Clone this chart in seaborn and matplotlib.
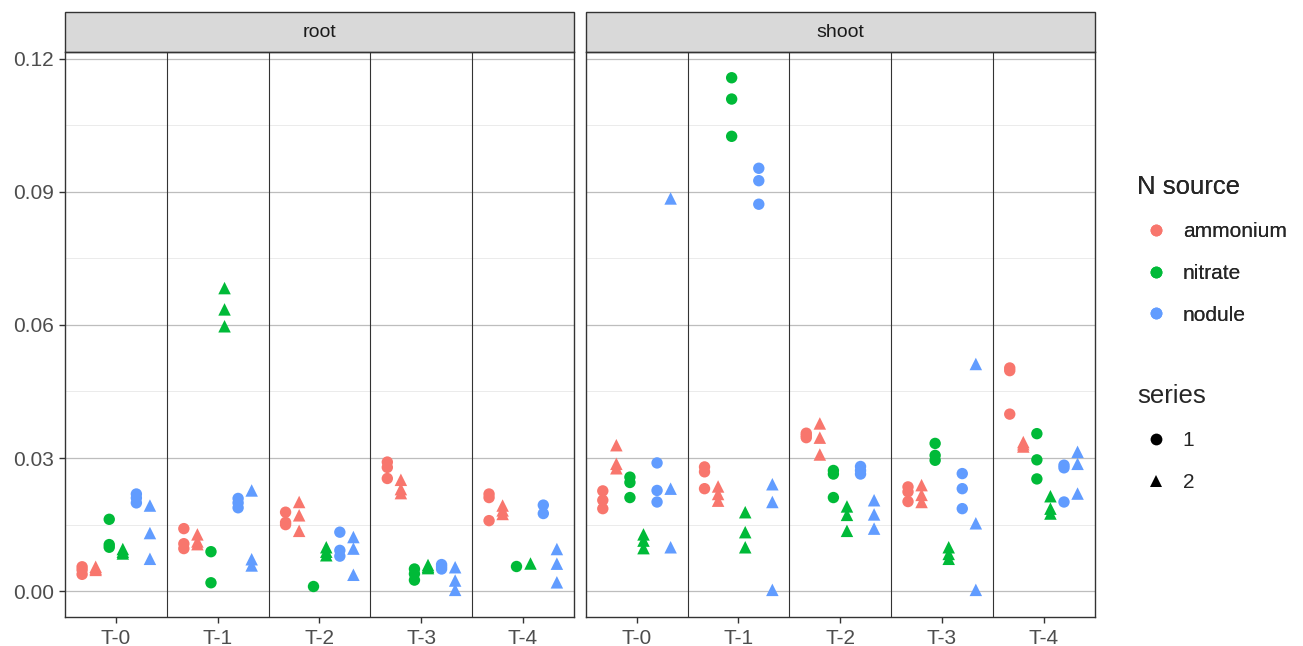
import pandas as pd
import matplotlib
matplotlib.use("Agg")
import matplotlib.pyplot as plt
import seaborn as sns
from matplotlib.lines import Line2D
from matplotlib.patches import Rectangle
from matplotlib.ticker import MultipleLocator

# ==========================================
# data
# ==========================================
times = ["T-0", "T-1", "T-2", "T-3", "T-4"]
tissues = ["root", "shoot"]
sources = ["ammonium", "nitrate", "nodule"]
series_levels = [1, 2]

# one list per tissue / source / series, one sub-list per time point
root_ammonium_1 = [[0.0055, 0.0048, 0.0038], [0.0141, 0.0107, 0.0096], [0.0178, 0.0155, 0.0150],
                   [0.0291, 0.0279, 0.0254], [0.0219, 0.0211, 0.0159]]
root_ammonium_2 = [[0.0055, 0.0051, 0.0048], [0.0128, 0.0112, 0.0106], [0.0201, 0.0171, 0.0136],
                   [0.0251, 0.0230, 0.0221], [0.0193, 0.0182, 0.0174]]
root_nitrate_1 = [[0.0162, 0.0105, 0.0099], [0.0089, 0.0019], [0.0011],
                  [0.0050, 0.0039, 0.0025], [0.0056]]
root_nitrate_2 = [[0.0095, 0.0089, 0.0085], [0.0683, 0.0635, 0.0597], [0.0099, 0.0089, 0.0081],
                  [0.0059, 0.0055, 0.0052], [0.0064]]
root_nodule_1 = [[0.0219, 0.0210, 0.0199], [0.0209, 0.0199, 0.0188], [0.0133, 0.0092, 0.0079],
                 [0.0060, 0.0055, 0.0050], [0.0194, 0.0175]]
root_nodule_2 = [[0.0193, 0.0131, 0.0073], [0.0227, 0.0072, 0.0058], [0.0122, 0.0096, 0.0037],
                 [0.0054, 0.0024, 0.0003], [0.0095, 0.0062, 0.0020]]

shoot_ammonium_1 = [[0.0226, 0.0205, 0.0186], [0.0280, 0.0269, 0.0231], [0.0356, 0.0351, 0.0346],
                    [0.0235, 0.0224, 0.0202], [0.0503, 0.0497, 0.0399]]
shoot_ammonium_2 = [[0.0329, 0.0287, 0.0277], [0.0236, 0.0219, 0.0204], [0.0378, 0.0346, 0.0308],
                    [0.0239, 0.0217, 0.0201], [0.0336, 0.0331, 0.0326]]
shoot_nitrate_1 = [[0.0257, 0.0245, 0.0211], [0.1157, 0.1109, 0.1025], [0.0272, 0.0264, 0.0211],
                   [0.0333, 0.0306, 0.0295], [0.0355, 0.0296, 0.0253]]
shoot_nitrate_2 = [[0.0128, 0.0114, 0.0097], [0.0178, 0.0133, 0.0099], [0.0191, 0.0172, 0.0136],
                   [0.0099, 0.0084, 0.0073], [0.0214, 0.0186, 0.0175]]
shoot_nodule_1 = [[0.0289, 0.0227, 0.0201], [0.0953, 0.0925, 0.0872], [0.0281, 0.0272, 0.0264],
                  [0.0265, 0.0231, 0.0186], [0.0284, 0.0278, 0.0201]]
shoot_nodule_2 = [[0.0885, 0.0231, 0.0099], [0.0241, 0.0201, 0.0003], [0.0205, 0.0173, 0.0141],
                  [0.0512, 0.0153, 0.0003], [0.0314, 0.0287, 0.0220]]

source_colors = {"ammonium": "#F8766D", "nitrate": "#00BA38", "nodule": "#619CFF"}
series_markers = {1: "o", 2: "^"}

# ==========================================
# long table
# ==========================================
blocks = {
    ("root", "ammonium", 1): root_ammonium_1, ("root", "ammonium", 2): root_ammonium_2,
    ("root", "nitrate", 1): root_nitrate_1, ("root", "nitrate", 2): root_nitrate_2,
    ("root", "nodule", 1): root_nodule_1, ("root", "nodule", 2): root_nodule_2,
    ("shoot", "ammonium", 1): shoot_ammonium_1, ("shoot", "ammonium", 2): shoot_ammonium_2,
    ("shoot", "nitrate", 1): shoot_nitrate_1, ("shoot", "nitrate", 2): shoot_nitrate_2,
    ("shoot", "nodule", 1): shoot_nodule_1, ("shoot", "nodule", 2): shoot_nodule_2,
}
rows = []
for (tissue, source, ser), per_time in blocks.items():
    for t, vals in zip(times, per_time):
        for v in vals:
            rows.append({"tissue": tissue, "source": source, "series": ser,
                         "time": t, "value": v, "group": f"{source}_{ser}"})
df = pd.DataFrame(rows)

# dodge slots: ammonium-1, ammonium-2, nitrate-1, ... (6 slots per time)
group_order = [f"{s}_{k}" for s in sources for k in series_levels]
group_palette = {g: source_colors[g.split("_")[0]] for g in group_order}

# ==========================================
# ggplot theme_bw look
# ==========================================
sns.set_theme(style="white")
plt.rcParams["font.family"] = ["Liberation Sans", "DejaVu Sans"]

fig, axes = plt.subplots(1, 2, figsize=(13.03, 6.46), dpi=100, sharey=True)
fig.subplots_adjust(left=0.050, right=0.840, bottom=0.045, top=0.9195, wspace=0.0236)

for ax, tissue in zip(axes, tissues):
    sub = df[df["tissue"] == tissue]
    for ser in series_levels:
        sns.stripplot(data=sub[sub["series"] == ser], x="time", y="value",
                      hue="group", hue_order=group_order, palette=group_palette,
                      order=times, dodge=True, jitter=False, marker=series_markers[ser],
                      size=8.2 if ser == 1 else 9, linewidth=0, ax=ax, legend=False, zorder=3)

    ax.set_xlim(-0.5, len(times) - 0.5)
    ax.set_ylim(-0.0058, 0.1215)
    ax.yaxis.set_major_locator(MultipleLocator(0.03))
    ax.yaxis.set_minor_locator(MultipleLocator(0.015))
    ax.yaxis.set_major_formatter(plt.FormatStrFormatter("%.2f"))
    ax.grid(which="major", axis="y", color="#BDBDBD", linewidth=0.9, zorder=0)
    ax.grid(which="minor", axis="y", color="#EBEBEB", linewidth=0.7, zorder=0)
    ax.grid(False, axis="x")
    ax.set_axisbelow(True)
    # separators between time points
    for b in range(len(times) - 1):
        ax.axvline(b + 0.5, color="#333333", linewidth=0.8, zorder=1)

    ax.set_xlabel("")
    ax.set_ylabel("")
    ax.tick_params(axis="both", which="major", length=4, width=1, color="#333333",
                   labelsize=15, labelcolor="#4D4D4D", bottom=True, left=True)
    ax.tick_params(axis="y", which="major", pad=4)
    ax.tick_params(axis="x", which="major", pad=5)
    ax.tick_params(axis="y", which="minor", length=0)
    for sp in ax.spines.values():
        sp.set_color("#333333")
        sp.set_linewidth(1)

    # facet strip
    strip_h = 40 / 565
    ax.add_patch(Rectangle((0, 1), 1, strip_h, transform=ax.transAxes, clip_on=False,
                           facecolor="#D9D9D9", edgecolor="#333333", linewidth=1))
    ax.text(0.5, 1 + strip_h / 2, tissue, transform=ax.transAxes, ha="center", va="center",
            fontsize=14, color="#1A1A1A")

axes[1].tick_params(axis="y", which="both", left=False, labelleft=False)

# ==========================================
# legends
# ==========================================
src_handles = [Line2D([], [], linestyle="", marker="o", markersize=8.5, markeredgewidth=0,
                      color=source_colors[s], label=s) for s in sources]
ser_handles = [Line2D([], [], linestyle="", marker=series_markers[k], markersize=8.5,
                      markeredgewidth=0, color="black", label=str(k)) for k in series_levels]
leg_kw = dict(frameon=False, alignment="left", fontsize=15, title_fontsize=18.5,
              handletextpad=0.4, labelspacing=1.1, handlelength=1.8, borderaxespad=0)
leg1 = fig.legend(handles=src_handles, title="N source", loc="upper left",
                  bbox_to_anchor=(0.8662, 0.742), **leg_kw)
fig.add_artist(leg1)
fig.legend(handles=ser_handles, title="series", loc="upper left",
           bbox_to_anchor=(0.8662, 0.4180), **leg_kw)

plt.savefig("out.png", dpi=100)
plt.close()
